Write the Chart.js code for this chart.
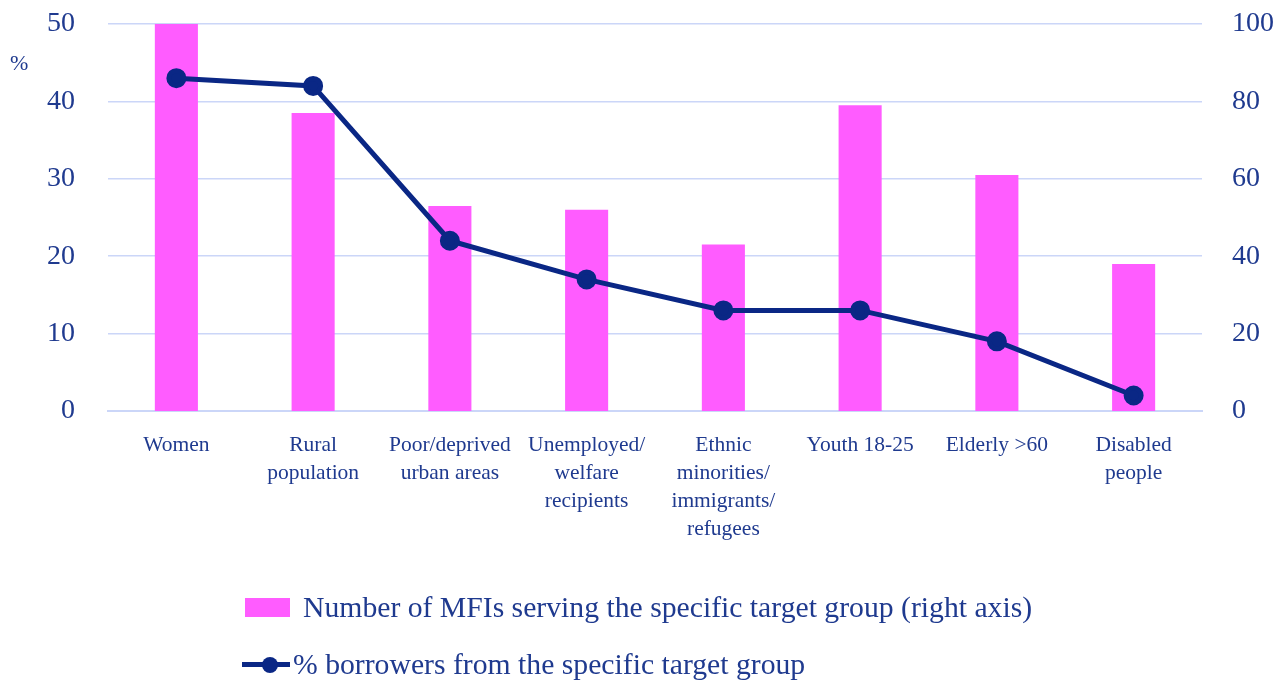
<!DOCTYPE html>
<html>
<head>
<meta charset="utf-8">
<script src="https://cdn.jsdelivr.net/npm/chart.js@4"></script>
<style>
  body { margin: 0; background: #fff; }
  #wrap { position: relative; width: 1284px; height: 682px; }
  #legend { position: absolute; left: 0; top: 0; font-family: "Liberation Serif", serif; color: #1f3a8f; font-size: 29.7px; }
  .item { position: absolute; white-space: nowrap; display: flex; align-items: center; }
  .box { width: 45px; height: 19px; background: #ff5cff; margin-right: 13px; }
  .ln { position: relative; width: 48px; height: 5px; background: #0a2785; margin-right: 3px; }
  .ln::after { content: ""; position: absolute; left: 20px; top: -5.5px; width: 16px; height: 16px; border-radius: 50%; background: #0a2785; }
</style>
</head>
<body>
<div id="wrap">
  <canvas id="c" width="1284" height="682"></canvas>
  <div id="legend">
    <div class="item" style="left:245px; top:591px;"><span class="box"></span><span id="lg1"></span></div>
    <div class="item" style="left:242px; top:648px;"><span class="ln"></span><span id="lg2"></span></div>
  </div>
</div>
<script>
// categories and values
const categories = [
  'Women',
  ['Rural', 'population'],
  ['Poor/deprived', 'urban areas'],
  ['Unemployed/', 'welfare', 'recipients'],
  ['Ethnic', 'minorities/', 'immigrants/', 'refugees'],
  'Youth 18-25',
  'Elderly >60',
  ['Disabled', 'people']
];
const mfiCount = [100, 77, 53, 52, 43, 79, 61, 38];      // right axis
const borrowerPct = [43, 42, 22, 17, 13, 13, 9, 2];      // left axis
const barLabel = 'Number of MFIs serving the specific target group (right axis)';
const lineLabel = '% borrowers from the specific target group';

document.getElementById('lg1').textContent = barLabel;
document.getElementById('lg2').textContent = lineLabel;

const navy = '#0a2785';
const textCol = '#1f3a8f';
const gridCol = '#cbd6f8';
const fontFam = '"Liberation Serif", serif';

// the "%" unit label sits horizontally left of the axis
const unitLabel = {
  id: 'unitLabel',
  afterDraw(chart) {
    const ctx = chart.ctx;
    const y = chart.scales.y.getPixelForValue(44.8);
    ctx.save();
    ctx.font = '22px ' + fontFam;
    ctx.fillStyle = textCol;
    ctx.textAlign = 'left';
    ctx.textBaseline = 'middle';
    ctx.fillText('%', 10, y);
    ctx.restore();
  }
};

// fixed axis sizes so the plot area sits where it does in the original
function fitY(w) {
  return function (s) { s.width = w; s.paddingTop = 0; s.paddingBottom = 0; };
}

const ctx = document.getElementById('c').getContext('2d');
const chart = new Chart(ctx, {
  data: {
    labels: categories,
    datasets: [{
      type: 'line',
      label: lineLabel,
      data: borrowerPct,
      yAxisID: 'y',
      borderColor: navy,
      backgroundColor: navy,
      borderWidth: 5,
      pointRadius: 7.5,
      pointHoverRadius: 7.5,
      tension: 0,
      order: 0
    }, {
      type: 'bar',
      label: barLabel,
      data: mfiCount,
      yAxisID: 'y2',
      backgroundColor: '#ff5cff',
      categoryPercentage: 1,
      barPercentage: 0.315,
      order: 1
    }]
  },
  options: {
    responsive: false,
    animation: false,
    layout: { padding: { top: 24, left: 0, right: 0, bottom: 0 } },
    plugins: { legend: { display: false }, tooltip: { enabled: false } },
    scales: {
      x: {
        grid: { display: false, drawTicks: false },
        border: { display: true, color: gridCol, width: 2 },
        ticks: { color: textCol, font: { family: fontFam, size: 21.5, lineHeight: 1.31 }, padding: 20, maxRotation: 0, autoSkip: false },
        afterFit(s) { s.height = 271; s.paddingLeft = 0; s.paddingRight = 0; }
      },
      y: {
        position: 'left',
        min: 0, max: 50,
        ticks: { stepSize: 10, color: textCol, font: { family: fontFam, size: 28 }, padding: 33 },
        grid: { color: gridCol, lineWidth: 1.5, drawTicks: false },
        border: { display: false },
        afterFit: fitY(108)
      },
      y2: {
        position: 'right',
        min: 0, max: 100,
        ticks: { stepSize: 20, color: textCol, font: { family: fontFam, size: 28 }, padding: 30 },
        grid: { display: false, drawTicks: false },
        border: { display: false },
        afterFit: fitY(82)
      }
    }
  },
  plugins: [unitLabel]
});
</script>
</body>
</html>
